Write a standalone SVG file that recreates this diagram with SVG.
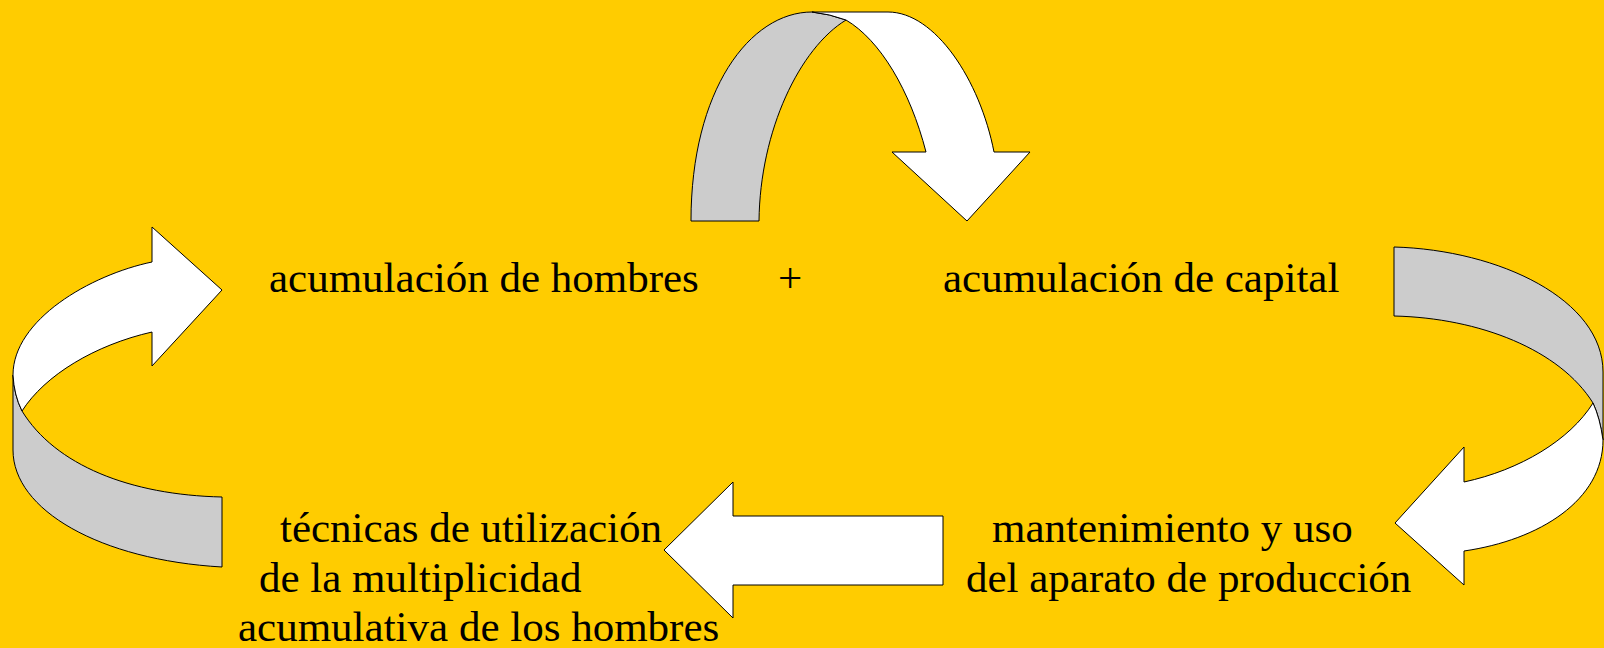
<svg xmlns="http://www.w3.org/2000/svg" width="1604" height="648" viewBox="0 0 1604 648">
<style>
.w{fill:#ffffff;stroke:#000;stroke-width:1;stroke-linejoin:miter}
.g{fill:#cccccc;stroke:#000;stroke-width:1}
.t{font-family:"Liberation Serif","Times New Roman",serif;font-size:43px;fill:#000}
</style>
<rect x="0" y="0" width="1604" height="648" fill="#ffcc00"/>
<g id="connectors">
<g id="arrow-top">
<path class="g" d="M691,221 C691,90 750,12 812,12 Q830,14 846,20 C800,48 760,130 759,221 Z"/>
<path class="w" d="M812,12 L888,12 C935,12 980,80 994,152 L1030,152 L967,221 L892,152 L926,152 C910,90 880,40 846,20 Q830,14 812,12 Z"/>
</g>
<g id="arrow-right">
<path class="g" d="M1394,247 C1500,250 1603,300 1603,372 L1603,440 Q1600,418 1593,403 C1560,350 1480,318 1394,316 Z"/>
<path class="w" d="M1593,403 Q1600,418 1603,440 C1603,500 1540,540 1464,551 L1464,585 L1395,523 L1464,447 L1464,482 C1520,470 1570,440 1593,403 Z"/>
</g>
<g id="arrow-bottom">
<path class="w" d="M943,516 L733,516 L733,482 L664,550 L733,618 L733,585 L943,585 Z"/>
</g>
<g id="arrow-left">
<path class="g" d="M13,375 L13,450 C13,510 100,560 222,567 L222,497 C130,495 55,465 22,411 Q14,395 13,375 Z"/>
<path class="w" d="M152,262 C90,275 13,320 13,375 Q14,395 22,411 C45,375 95,345 152,332 L152,366 L222,290 L152,227 Z"/>
</g>
</g>
<g id="node-hombres"><text class="t" x="269" y="292">acumulación de hombres</text></g>
<g id="node-plus"><text class="t" x="778" y="292">+</text></g>
<g id="node-capital"><text class="t" x="943" y="292">acumulación de capital</text></g>
<g id="node-mantenimiento">
<text class="t" x="992" y="542">mantenimiento y uso</text>
<text class="t" x="966" y="592">del aparato de producción</text>
</g>
<g id="node-tecnicas">
<text class="t" x="280" y="542">técnicas de utilización</text>
<text class="t" x="259" y="592">de la multiplicidad</text>
<text class="t" x="238" y="641">acumulativa de los hombres</text>
</g>
</svg>
